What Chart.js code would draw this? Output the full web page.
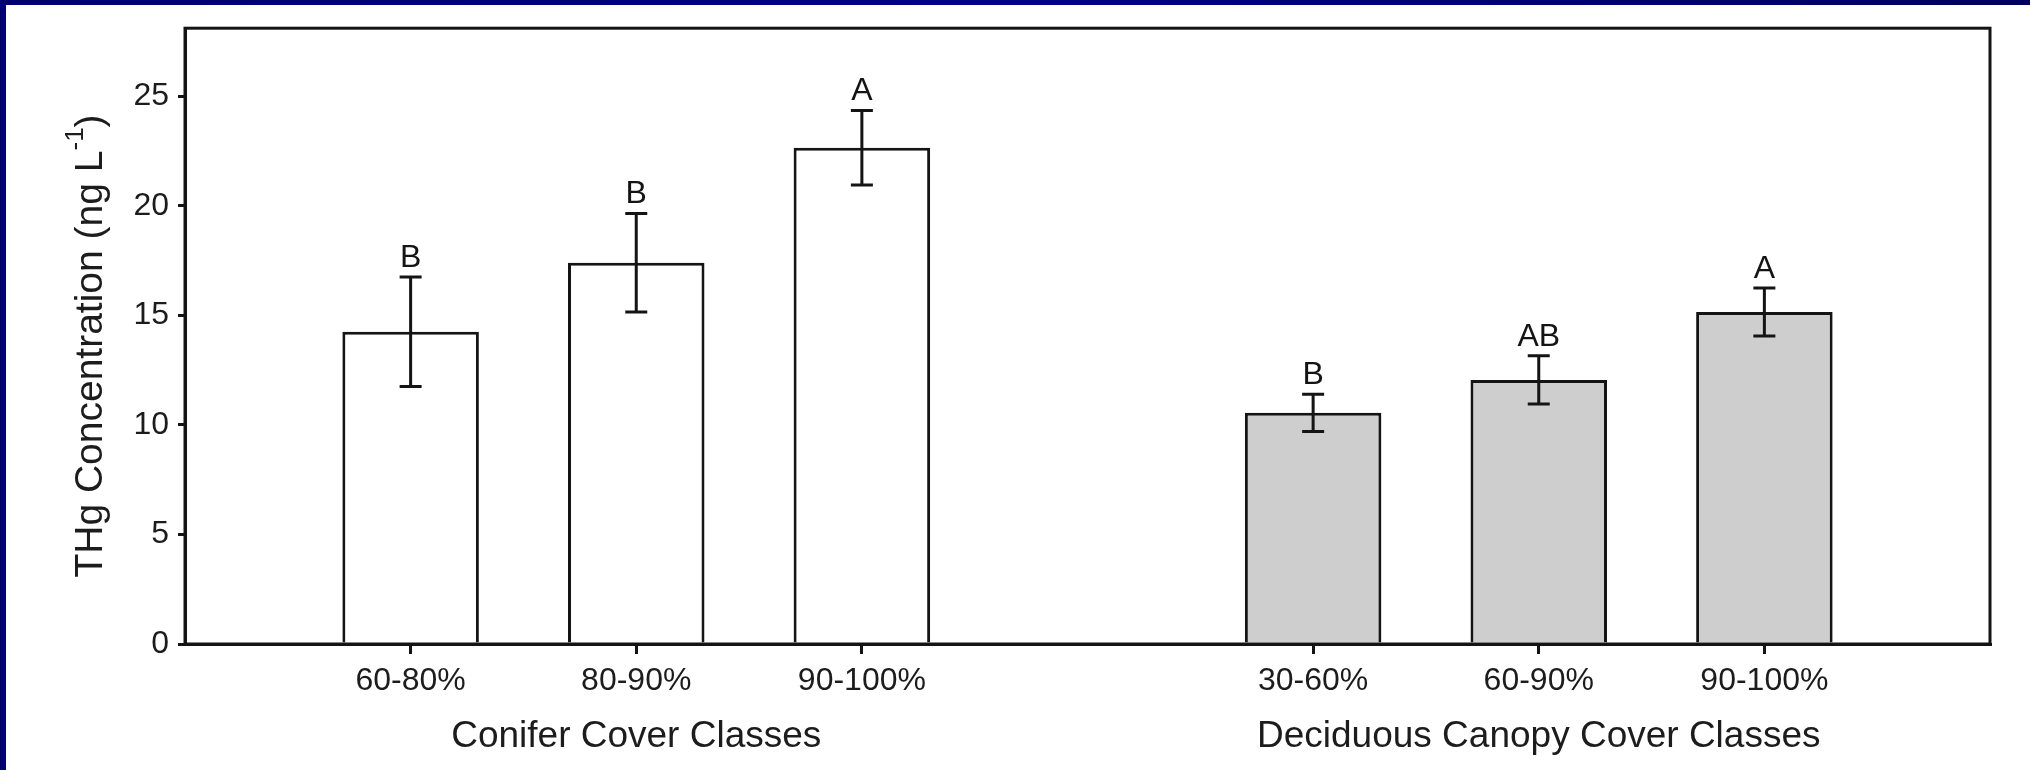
<!DOCTYPE html>
<html>
<head>
<meta charset="utf-8">
<script src="https://cdn.jsdelivr.net/npm/chart.js@4.4.1/dist/chart.umd.min.js"></script>
<style>
  html, body { margin: 0; padding: 0; background: #fff; }
  #wrap { width: 2030px; height: 770px; position: relative; }
</style>
</head>
<body>
<div id="wrap"><canvas id="thg"></canvas></div>
<script>
// THg means with standard errors and significance letters per cover class
const coniferClasses = ['60-80%', '80-90%', '90-100%'];
const coniferMeans = [14.25, 17.4, 22.65];
const coniferErrors = [2.5, 2.25, 1.7];
const coniferLetters = ['B', 'B', 'A'];

const deciduousClasses = ['30-60%', '60-90%', '90-100%'];
const deciduousMeans = [10.55, 12.05, 15.15];
const deciduousErrors = [0.85, 1.1, 1.1];
const deciduousLetters = ['B', 'AB', 'A'];

const yMin = 0;
const yMax = 28.1;
const yStep = 5;

const groupTitles = ['Conifer Cover Classes', 'Deciduous Canopy Cover Classes'];

const INK = '#141414';
const FONT = '"Liberation Sans", Arial, Helvetica, sans-serif';

// one empty slot at each end and one between the two groups
const labels = [''].concat(coniferClasses, [''], deciduousClasses, ['']);
const means = [null].concat(coniferMeans, [null], deciduousMeans, [null]);
const errors = [null].concat(coniferErrors, [null], deciduousErrors, [null]);
const letters = [null].concat(coniferLetters, [null], deciduousLetters, [null]);
const fills = ['#fff'].concat(coniferMeans.map(() => '#ffffff'), ['#fff'], deciduousMeans.map(() => '#cecece'), ['#fff']);
const groupCentres = [2, 6];

const decor = {
  id: 'decor',
  beforeDraw(chart) {
    const c = chart.ctx;
    c.save();
    c.fillStyle = '#ffffff';
    c.fillRect(0, 0, chart.width, chart.height);
    const g = c.createLinearGradient(0, 0, chart.width, 0);
    g.addColorStop(0, '#000070');
    g.addColorStop(0.5, '#00008a');
    g.addColorStop(1, '#000060');
    c.fillStyle = g;
    c.fillRect(0, 0, chart.width, 5);
    c.fillStyle = '#000070';
    c.fillRect(0, 0, 6, chart.height);
    c.restore();
  },
  afterDatasetsDraw(chart) {
    const c = chart.ctx;
    const y = chart.scales.y;
    const meta = chart.getDatasetMeta(0);
    c.save();
    c.strokeStyle = INK;
    c.fillStyle = INK;
    c.lineWidth = 3;
    c.font = '32px ' + FONT;
    c.textAlign = 'center';
    c.textBaseline = 'alphabetic';
    meta.data.forEach((bar, i) => {
      if (means[i] == null) return;
      const top = y.getPixelForValue(means[i] + errors[i]);
      const bot = y.getPixelForValue(means[i] - errors[i]);
      c.beginPath();
      c.moveTo(bar.x, top); c.lineTo(bar.x, bot);
      c.moveTo(bar.x - 11, top); c.lineTo(bar.x + 11, top);
      c.moveTo(bar.x - 11, bot); c.lineTo(bar.x + 11, bot);
      c.stroke();
      c.fillText(letters[i], bar.x, top - 10);
    });
    c.restore();
  },
  afterDraw(chart) {
    const c = chart.ctx;
    const a = chart.chartArea;
    const x = chart.scales.x;
    c.save();
    // plot frame
    c.strokeStyle = INK;
    c.lineWidth = 3;
    c.strokeRect(a.left, a.top, a.right - a.left, a.bottom - a.top);

    // group titles under the class labels
    c.fillStyle = '#1c1c1c';
    c.font = '37px ' + FONT;
    c.textAlign = 'center';
    c.textBaseline = 'alphabetic';
    groupTitles.forEach((t, k) => {
      c.fillText(t, x.getPixelForValue(groupCentres[k]), 747);
    });

    // y axis title with superscript
    const main = 'THg Concentration (ng L';
    const sup = '-1';
    const tail = ')';
    c.font = '39px ' + FONT;
    const wMain = c.measureText(main).width;
    const wTail = c.measureText(tail).width;
    c.font = '26px ' + FONT;
    const wSup = c.measureText(sup).width;
    const total = wMain + wSup + wTail;
    c.translate(102, 346);
    c.rotate(-Math.PI / 2);
    c.textAlign = 'left';
    let px = -total / 2;
    c.font = '39px ' + FONT;
    c.fillText(main, px, 0);
    px += wMain;
    c.font = '26px ' + FONT;
    c.fillText(sup, px, -19);
    px += wSup;
    c.font = '39px ' + FONT;
    c.fillText(tail, px, 0);
    c.restore();
  }
};

new Chart(document.getElementById('thg'), {
  type: 'bar',
  data: {
    labels: labels,
    datasets: [{
      data: means,
      backgroundColor: fills,
      borderColor: INK,
      borderWidth: 3,
      categoryPercentage: 1,
      barPercentage: 0.605
    }]
  },
  options: {
    responsive: true,
    maintainAspectRatio: false,
    animation: false,
    layout: { padding: { left: 0, right: 40, top: 22, bottom: 0 } },
    plugins: {
      legend: { display: false },
      tooltip: { enabled: false },
      title: { display: false }
    },
    scales: {
      x: {
        offset: false,
        afterFit(scale) { scale.height = 126; },
        border: { display: true, color: INK, width: 3 },
        grid: {
          offset: false,
          drawOnChartArea: false,
          drawTicks: true,
          tickLength: 10,
          lineWidth: 3,
          tickColor: (ctx) => (ctx.tick && ctx.tick.label) ? INK : 'rgba(0,0,0,0)'
        },
        ticks: {
          autoSkip: false,
          maxRotation: 0,
          padding: 8,
          color: '#1c1c1c',
          font: { family: FONT, size: 32 }
        }
      },
      y: {
        min: yMin,
        max: yMax,
        afterFit(scale) { scale.width = 185; },
        border: { display: true, color: INK, width: 3 },
        grid: {
          drawOnChartArea: false,
          drawTicks: true,
          tickLength: 7,
          lineWidth: 3,
          color: INK
        },
        ticks: {
          stepSize: yStep,
          includeBounds: false,
          padding: 9,
          color: '#1c1c1c',
          font: { family: FONT, size: 32 }
        }
      }
    }
  },
  plugins: [decor]
});
</script>
</body>
</html>
